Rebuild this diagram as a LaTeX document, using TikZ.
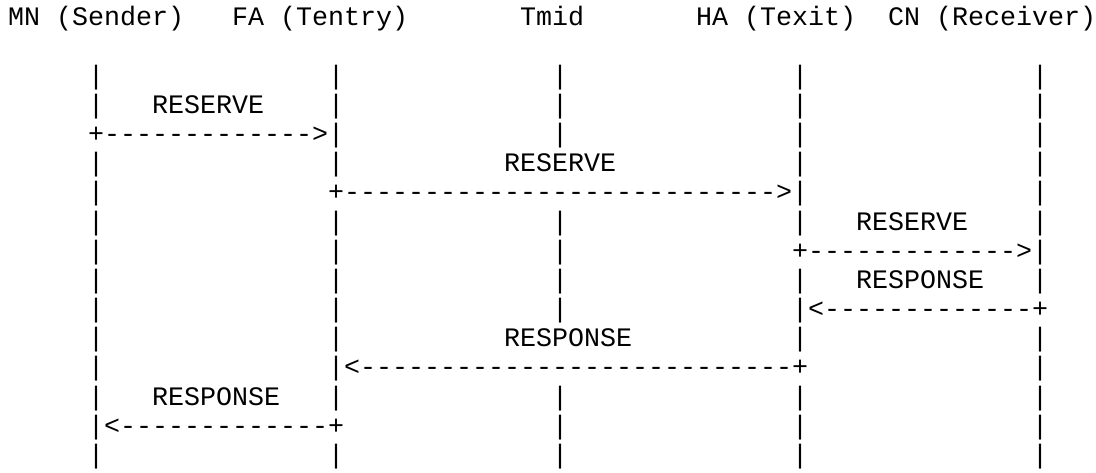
\documentclass[tikz,border=0pt]{standalone}
\usepackage{fontspec}
\setmonofont{Liberation Mono}
\usepackage{tikz}

% run of n blank columns
\newcommand\blanks[1]{\hspace*{#1\fontdimen2\font}}

\begin{document}
\begin{tikzpicture}[x=12pt, y=-21.88pt,
  row/.style={anchor=base west, inner sep=0pt, outer sep=0pt,
    font=\ttfamily\fontsize{20pt}{22pt}\selectfont}]
  \useasboundingbox[fill=white] (-0.5,-0.884) rectangle (68,15.329);

  % header
  \node[row] (r0) at (0,0) {MN (Sender)\blanks{3}FA (Tentry)\blanks{7}Tmid\blanks{7}HA (Texit)\blanks{2}CN (Receiver)};

  % lifelines and messages
  \node[row] (r2) at (0,2) {\blanks{5}|\blanks{14}|\blanks{13}|\blanks{14}|\blanks{14}|};
  \node[row] (r3) at (0,3) {\blanks{5}|\blanks{3}RESERVE\blanks{4}|\blanks{13}|\blanks{14}|\blanks{14}|};
  \node[row] (r4) at (0,4) {\blanks{5}+------------->|\blanks{13}|\blanks{14}|\blanks{14}|};
  \node[row] (r5) at (0,5) {\blanks{5}|\blanks{14}|\blanks{10}RESERVE\blanks{11}|\blanks{14}|};
  \node[row] (r6) at (0,6) {\blanks{5}|\blanks{14}+--------------------------->|\blanks{14}|};
  \node[row] (r7) at (0,7) {\blanks{5}|\blanks{14}|\blanks{13}|\blanks{14}|\blanks{3}RESERVE\blanks{4}|};
  \node[row] (r8) at (0,8) {\blanks{5}|\blanks{14}|\blanks{13}|\blanks{14}+------------->|};
  \node[row] (r9) at (0,9) {\blanks{5}|\blanks{14}|\blanks{13}|\blanks{14}|\blanks{3}RESPONSE\blanks{3}|};
  \node[row] (r10) at (0,10) {\blanks{5}|\blanks{14}|\blanks{13}|\blanks{14}|<-------------+};
  \node[row] (r11) at (0,11) {\blanks{5}|\blanks{14}|\blanks{10}RESPONSE\blanks{10}|\blanks{14}|};
  \node[row] (r12) at (0,12) {\blanks{5}|\blanks{14}|<---------------------------+\blanks{14}|};
  \node[row] (r13) at (0,13) {\blanks{5}|\blanks{3}RESPONSE\blanks{3}|\blanks{13}|\blanks{14}|\blanks{14}|};
  \node[row] (r14) at (0,14) {\blanks{5}|<-------------+\blanks{13}|\blanks{14}|\blanks{14}|};
  \node[row] (r15) at (0,15) {\blanks{5}|\blanks{14}|\blanks{13}|\blanks{14}|\blanks{14}|};
\end{tikzpicture}
\end{document}
